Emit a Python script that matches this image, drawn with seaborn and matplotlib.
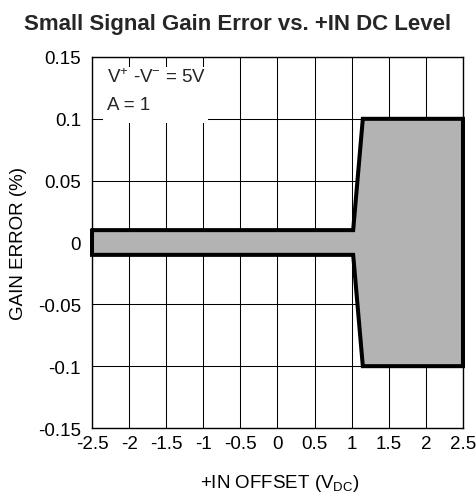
import matplotlib
matplotlib.use("Agg")
import matplotlib.pyplot as plt
import seaborn as sns
import pandas as pd
from matplotlib.patches import Rectangle

# Data
x_edge = [-2.5, 1.02, 1.15, 2.5]
upper = [0.01, 0.01, 0.10, 0.10]
lower = [-0.01, -0.01, -0.10, -0.10]
x_ticks = [-2.5, -2, -1.5, -1, -0.5, 0, 0.5, 1, 1.5, 2, 2.5]
x_tick_labels = ["-2.5", "-2", "-1.5", "-1", "-0.5", "0", "0.5", "1", "1.5", "2", "2.5"]
y_ticks = [-0.15, -0.1, -0.05, 0, 0.05, 0.1, 0.15]
y_tick_labels = ["-0.15", "-0.1", "-0.05", "0", "0.05", "0.1", "0.15"]

sns.set_theme(style="white")
plt.rcParams['font.family'] = ['Liberation Sans', 'DejaVu Sans']
plt.rcParams['mathtext.default'] = 'regular'

fig = plt.figure(figsize=(4.77, 5.02), dpi=100)
ax = fig.add_axes([0.1929, 0.1454, 0.7777, 0.7391])

# outline (closed polygon)
ox = x_edge + x_edge[::-1] + [x_edge[0]]
oy = upper + lower[::-1] + [upper[0]]
outline = pd.DataFrame({"x": ox, "y": oy})

ax.fill_between(x_edge, lower, upper, color="#b3b3b3", zorder=2, linewidth=0)
sns.lineplot(data=outline, x="x", y="y", sort=False, estimator=None, ax=ax,
             color="black", linewidth=2.9, zorder=6)
ln = ax.lines[-1]
ln.set_solid_joinstyle("miter")
ln.set_clip_on(False)

ax.set_xlim(-2.5, 2.5)
ax.set_ylim(-0.15, 0.15)
ax.set_xticks(x_ticks)
ax.set_xticklabels(x_tick_labels)
ax.set_yticks(y_ticks)
ax.set_yticklabels(y_tick_labels)
ax.grid(True, color="black", linewidth=0.75)
ax.set_axisbelow(True)
ax.tick_params(axis="x", labelsize=13.5, length=0, pad=5, colors="black")
ax.tick_params(axis="y", labelsize=13.5, length=0, pad=8, colors="black")
for s in ax.spines.values():
    s.set_color("black")
    s.set_linewidth(1.0)
    s.set_zorder(5)

# annotation box
ax.add_patch(Rectangle((-2.35, 0.097), 1.41, 0.045, facecolor="white",
                       edgecolor="none", zorder=1.5))
ax.text(-2.30, 0.1298, "V$^{+}$ -V$^{-}$ = 5V", fontsize=13.5, va="baseline", ha="left", zorder=4)
ax.text(-2.30, 0.1080, "A = 1", fontsize=13.5, va="baseline", ha="left", zorder=4)

ax.set_xlabel("+IN OFFSET (V$_{DC}$)", fontsize=13.5, color="black")
ax.xaxis.set_label_coords(0.505, -0.118)
ax.xaxis.label.set_va("top")
ax.set_ylabel("GAIN ERROR (%)", fontsize=13.5, color="black")
ax.yaxis.set_label_coords(-0.197, 0.5)
ax.yaxis.label.set_va("center")
fig.text(0.499, 0.940, "Small Signal Gain Error vs. +IN DC Level", fontsize=16,
         fontweight="bold", ha="center", va="baseline")

fig.savefig("out.png", dpi=100)
